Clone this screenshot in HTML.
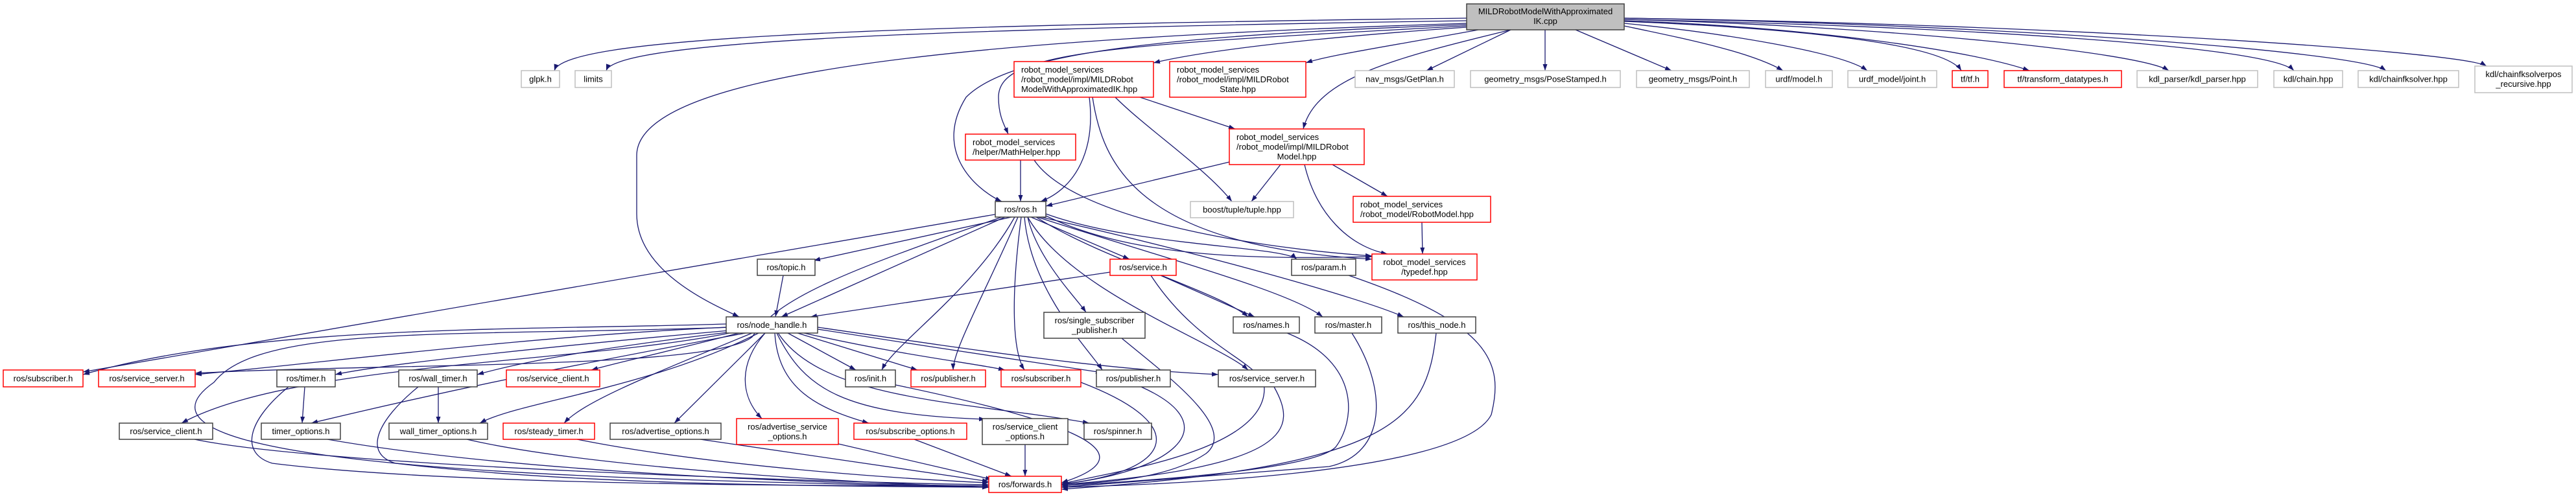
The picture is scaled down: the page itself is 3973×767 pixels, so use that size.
<!DOCTYPE html>
<html><head><meta charset="utf-8"><style>
html,body{margin:0;padding:0;background:#fff;width:3973px;height:767px;overflow:hidden}
svg{display:block}
text{font-family:"Liberation Sans",sans-serif;font-size:13px;fill:#000}
.e{fill:none;stroke:#191970;stroke-width:1.3}
.g{fill:#fff;stroke:#bfbfbf;stroke-width:1.5}
.r{fill:#fff;stroke:#ff0000;stroke-width:1.5}
.k{fill:#fff;stroke:#404040;stroke-width:1.5}
.m{fill:#bfbfbf;stroke:#404040;stroke-width:1.5}
</style></head><body>
<svg width="3973" height="767" viewBox="0 0 3973 767" xmlns="http://www.w3.org/2000/svg">
<defs><marker id="a" markerUnits="userSpaceOnUse" markerWidth="11" markerHeight="8" refX="10" refY="3.5" orient="auto"><path d="M0,0 L10,3.5 L0,7 z" fill="#191970"/></marker></defs>
<g class="e" marker-end="url(#a)">
<path d="M2262,28 C1300,40 870,60 855,109"/>
<path d="M2262,32 C1400,45 950,65 935,109"/>
<path d="M2262,36 C1500,60 982,110 982,240 L982,330 C982,420 1100,470 1140,489"/>
<path d="M2262,38 C1800,55 1560,80 1490,150 C1440,230 1500,290 1545,311"/>
<path d="M2262,40 C1700,70 1540,80 1540,150 C1540,180 1550,195 1555,207"/>
<path d="M2262,42 C2000,60 1850,80 1779,97"/>
<path d="M2280,46 C2150,70 2050,85 2014,97"/>
<path d="M2330,46 C2150,90 2030,120 2010,199"/>
<path d="M2330,46 L2200,109"/>
<path d="M2383,46 L2383,109"/>
<path d="M2430,46 L2578,109"/>
<path d="M2505,40 C2600,60 2700,80 2750,109"/>
<path d="M2505,36 C2650,50 2840,80 2880,109"/>
<path d="M2505,33 C2800,45 3000,70 3025,109"/>
<path d="M2505,32 C2800,42 3050,80 3130,109"/>
<path d="M2505,30 C2900,40 3300,80 3345,109"/>
<path d="M2505,30 C3000,40 3500,70 3538,109"/>
<path d="M2505,28 C3100,38 3640,80 3680,109"/>
<path d="M2505,28 C3200,38 3800,80 3835,102"/>
<path d="M1680,150 C1690,230 1660,290 1605,311"/>
<path d="M1758,150 L1905,199"/>
<path d="M1720,150 C1770,200 1860,260 1900,311"/>
<path d="M1685,150 C1700,250 1750,380 2116,400"/>
<path d="M1574,247 L1574,311"/>
<path d="M1595,247 C1650,330 1900,380 2116,395"/>
<path d="M1896,250 L1613,318"/>
<path d="M1975,254 L1930,311"/>
<path d="M2055,254 L2140,303"/>
<path d="M2012,254 C2030,330 2080,380 2140,392"/>
<path d="M2193,343 L2194,392"/>
<path d="M1560,335 L1255,402"/>
<path d="M1550,335 L1205,489"/>
<path d="M1590,335 L1742,400"/>
<path d="M1613,330 C1750,380 1980,380 2000,400"/>
<path d="M1613,333 C1750,400 1950,400 2116,396"/>
<path d="M1585,335 C1600,400 1660,460 1675,482"/>
<path d="M1598,335 C1700,400 1880,450 1925,489"/>
<path d="M1600,335 C1800,400 1990,450 2040,489"/>
<path d="M1605,335 C1850,390 2100,460 2165,489"/>
<path d="M1565,335 C1500,450 1380,530 1360,571"/>
<path d="M1570,335 C1520,450 1470,540 1470,571"/>
<path d="M1575,335 C1560,450 1560,540 1580,571"/>
<path d="M1580,335 C1590,450 1680,540 1700,571"/>
<path d="M1585,335 C1650,450 1880,530 1925,571"/>
<path d="M1540,330 L128,574"/>
<path d="M1545,335 C1300,420 1200,460 1160,520 C1100,570 600,560 301,576"/>
<path d="M1208,425 L1196,489"/>
<path d="M1712,420 L1250,489"/>
<path d="M1790,425 L1935,489"/>
<path d="M1775,425 C1850,540 1950,560 1950,600 C1950,700 1700,730 1637,747"/>
<path d="M2080,425 C2300,500 2320,560 2300,640 C2250,740 1700,750 1637,752"/>
<path d="M1985,514 C2100,560 2090,650 2060,690 C2020,730 1700,745 1637,750"/>
<path d="M2085,514 C2140,600 2140,700 2050,720 L1637,752"/>
<path d="M2215,514 C2200,650 2150,720 1637,755"/>
<path d="M1730,522 C1800,580 1910,660 1860,700 C1800,740 1700,745 1637,748"/>
<path d="M1965,597 C2000,660 2000,720 1637,748"/>
<path d="M1760,597 C1900,660 1800,730 1637,747"/>
<path d="M1667,590 C1850,660 1800,730 1637,747"/>
<path d="M1381,594 C1650,650 1780,700 1637,745"/>
<path d="M1581,686 L1581,735"/>
<path d="M1410,678 L1560,735"/>
<path d="M1293,685 L1530,740"/>
<path d="M1080,678 L1525,743"/>
<path d="M890,678 C1100,720 1400,740 1525,745"/>
<path d="M300,678 C500,720 1300,745 1525,748"/>
<path d="M445,597 C380,650 370,700 420,715 C700,750 1300,750 1525,750"/>
<path d="M470,597 L466,653"/>
<path d="M505,678 C800,730 1300,748 1525,750"/>
<path d="M676,597 L676,653"/>
<path d="M645,597 C580,650 560,700 610,715 C900,750 1300,750 1525,752"/>
<path d="M720,678 C900,720 1300,745 1525,752"/>
<path d="M1130,505 C700,520 400,500 330,590 C130,730 1000,740 1525,752"/>
<path d="M1120,500 C800,510 400,500 128,578"/>
<path d="M1120,505 C800,520 500,560 301,578"/>
<path d="M1125,510 C900,530 600,560 517,578"/>
<path d="M1130,512 C900,540 800,560 736,578"/>
<path d="M1140,514 C1000,550 950,560 912,571"/>
<path d="M1160,514 C1000,580 900,620 870,653"/>
<path d="M1180,514 L1040,653"/>
<path d="M1180,514 C1140,560 1140,610 1175,646"/>
<path d="M1195,514 C1200,600 1260,630 1340,653"/>
<path d="M1198,514 C1240,600 1300,640 1520,647"/>
<path d="M1215,514 L1320,571"/>
<path d="M1230,514 L1415,571"/>
<path d="M1240,514 C1400,550 1500,560 1550,571"/>
<path d="M1261,508 C1400,530 1600,560 1700,575"/>
<path d="M1261,505 C1500,540 1700,570 1879,578"/>
<path d="M1200,514 C1270,620 1500,620 1680,653"/>
<path d="M1150,514 C900,560 700,600 480,653"/>
<path d="M1170,514 C1000,600 800,620 740,653"/>
<path d="M1125,514 C900,560 450,560 280,653"/>
</g>
<g>
<rect class="m" x="2262" y="6" width="243" height="40"/><text x="2383.5" y="22" text-anchor="middle">MILDRobotModelWithApproximated</text><text x="2383.5" y="37" text-anchor="middle">IK.cpp</text>
<rect class="g" x="804" y="109" width="59" height="26"/><text x="833.5" y="126.5" text-anchor="middle">glpk.h</text>
<rect class="g" x="887" y="109" width="56" height="26"/><text x="915" y="126.5" text-anchor="middle">limits</text>
<rect class="r" x="1564" y="95" width="215" height="55"/><text x="1575" y="112">robot_model_services</text><text x="1575" y="127">/robot_model/impl/MILDRobot</text><text x="1575" y="142">ModelWithApproximatedIK.hpp</text>
<rect class="r" x="1804" y="95" width="210" height="55"/><text x="1815" y="112">robot_model_services</text><text x="1815" y="127">/robot_model/impl/MILDRobot</text><text x="1909" y="142" text-anchor="middle">State.hpp</text>
<rect class="g" x="2090" y="109" width="153" height="26"/><text x="2166.5" y="126.5" text-anchor="middle">nav_msgs/GetPlan.h</text>
<rect class="g" x="2268" y="109" width="231" height="26"/><text x="2383.5" y="126.5" text-anchor="middle">geometry_msgs/PoseStamped.h</text>
<rect class="g" x="2524" y="109" width="174" height="26"/><text x="2611" y="126.5" text-anchor="middle">geometry_msgs/Point.h</text>
<rect class="g" x="2723" y="109" width="103" height="26"/><text x="2774.5" y="126.5" text-anchor="middle">urdf/model.h</text>
<rect class="g" x="2850" y="109" width="137" height="26"/><text x="2918.5" y="126.5" text-anchor="middle">urdf_model/joint.h</text>
<rect class="r" x="3011" y="109" width="55" height="26"/><text x="3038.5" y="126.5" text-anchor="middle">tf/tf.h</text>
<rect class="r" x="3091" y="109" width="181" height="26"/><text x="3181.5" y="126.5" text-anchor="middle">tf/transform_datatypes.h</text>
<rect class="g" x="3296" y="109" width="186" height="26"/><text x="3389" y="126.5" text-anchor="middle">kdl_parser/kdl_parser.hpp</text>
<rect class="g" x="3507" y="109" width="106" height="26"/><text x="3560" y="126.5" text-anchor="middle">kdl/chain.hpp</text>
<rect class="g" x="3637" y="109" width="155" height="26"/><text x="3714.5" y="126.5" text-anchor="middle">kdl/chainfksolver.hpp</text>
<rect class="g" x="3817" y="102" width="150" height="41"/><text x="3892" y="119" text-anchor="middle">kdl/chainfksolverpos</text><text x="3892" y="134" text-anchor="middle">_recursive.hpp</text>
<rect class="r" x="1489" y="207" width="170" height="40"/><text x="1500" y="224">robot_model_services</text><text x="1500" y="239">/helper/MathHelper.hpp</text>
<rect class="r" x="1896" y="199" width="208" height="55"/><text x="1907" y="216">robot_model_services</text><text x="1907" y="231">/robot_model/impl/MILDRobot</text><text x="2000" y="246" text-anchor="middle">Model.hpp</text>
<rect class="k" x="1535" y="311" width="78" height="24"/><text x="1574" y="327.5" text-anchor="middle">ros/ros.h</text>
<rect class="g" x="1836" y="311" width="159" height="25"/><text x="1915.5" y="328" text-anchor="middle">boost/tuple/tuple.hpp</text>
<rect class="r" x="2087" y="303" width="212" height="40"/><text x="2098" y="320">robot_model_services</text><text x="2098" y="335">/robot_model/RobotModel.hpp</text>
<rect class="r" x="2116" y="392" width="162" height="40"/><text x="2197" y="409" text-anchor="middle">robot_model_services</text><text x="2197" y="424" text-anchor="middle">/typedef.hpp</text>
<rect class="k" x="1168" y="400" width="89" height="25"/><text x="1212.5" y="417" text-anchor="middle">ros/topic.h</text>
<rect class="r" x="1712" y="400" width="102" height="25"/><text x="1763" y="417" text-anchor="middle">ros/service.h</text>
<rect class="k" x="1992" y="400" width="99" height="25"/><text x="2041.5" y="417" text-anchor="middle">ros/param.h</text>
<rect class="k" x="1120" y="489" width="141" height="25"/><text x="1190.5" y="506" text-anchor="middle">ros/node_handle.h</text>
<rect class="k" x="1610" y="482" width="156" height="40"/><text x="1688" y="499" text-anchor="middle">ros/single_subscriber</text><text x="1688" y="514" text-anchor="middle">_publisher.h</text>
<rect class="k" x="1902" y="489" width="102" height="25"/><text x="1953" y="506" text-anchor="middle">ros/names.h</text>
<rect class="k" x="2028" y="489" width="103" height="25"/><text x="2079.5" y="506" text-anchor="middle">ros/master.h</text>
<rect class="k" x="2156" y="489" width="120" height="25"/><text x="2216" y="506" text-anchor="middle">ros/this_node.h</text>
<rect class="r" x="5" y="571" width="123" height="26"/><text x="66.5" y="588.5" text-anchor="middle">ros/subscriber.h</text>
<rect class="r" x="152" y="571" width="149" height="26"/><text x="226.5" y="588.5" text-anchor="middle">ros/service_server.h</text>
<rect class="k" x="427" y="571" width="90" height="26"/><text x="472" y="588.5" text-anchor="middle">ros/timer.h</text>
<rect class="k" x="615" y="571" width="121" height="26"/><text x="675.5" y="588.5" text-anchor="middle">ros/wall_timer.h</text>
<rect class="r" x="781" y="571" width="144" height="26"/><text x="853" y="588.5" text-anchor="middle">ros/service_client.h</text>
<rect class="k" x="1304" y="571" width="77" height="26"/><text x="1342.5" y="588.5" text-anchor="middle">ros/init.h</text>
<rect class="r" x="1405" y="571" width="115" height="26"/><text x="1462.5" y="588.5" text-anchor="middle">ros/publisher.h</text>
<rect class="r" x="1544" y="571" width="123" height="26"/><text x="1605.5" y="588.5" text-anchor="middle">ros/subscriber.h</text>
<rect class="k" x="1691" y="571" width="114" height="26"/><text x="1748" y="588.5" text-anchor="middle">ros/publisher.h</text>
<rect class="k" x="1879" y="571" width="150" height="26"/><text x="1954" y="588.5" text-anchor="middle">ros/service_server.h</text>
<rect class="k" x="184" y="653" width="144" height="25"/><text x="256" y="670" text-anchor="middle">ros/service_client.h</text>
<rect class="k" x="403" y="653" width="122" height="25"/><text x="464" y="670" text-anchor="middle">timer_options.h</text>
<rect class="k" x="600" y="653" width="152" height="25"/><text x="676" y="670" text-anchor="middle">wall_timer_options.h</text>
<rect class="r" x="776" y="653" width="141" height="25"/><text x="846.5" y="670" text-anchor="middle">ros/steady_timer.h</text>
<rect class="k" x="941" y="653" width="171" height="25"/><text x="1026.5" y="670" text-anchor="middle">ros/advertise_options.h</text>
<rect class="r" x="1136" y="646" width="157" height="40"/><text x="1214.5" y="663" text-anchor="middle">ros/advertise_service</text><text x="1214.5" y="678" text-anchor="middle">_options.h</text>
<rect class="r" x="1317" y="653" width="174" height="25"/><text x="1404" y="670" text-anchor="middle">ros/subscribe_options.h</text>
<rect class="k" x="1515" y="646" width="132" height="40"/><text x="1581" y="663" text-anchor="middle">ros/service_client</text><text x="1581" y="678" text-anchor="middle">_options.h</text>
<rect class="k" x="1672" y="653" width="104" height="25"/><text x="1724" y="670" text-anchor="middle">ros/spinner.h</text>
<rect class="r" x="1525" y="735" width="112" height="25"/><text x="1581" y="752" text-anchor="middle">ros/forwards.h</text>
</g>
</svg>
</body></html>
